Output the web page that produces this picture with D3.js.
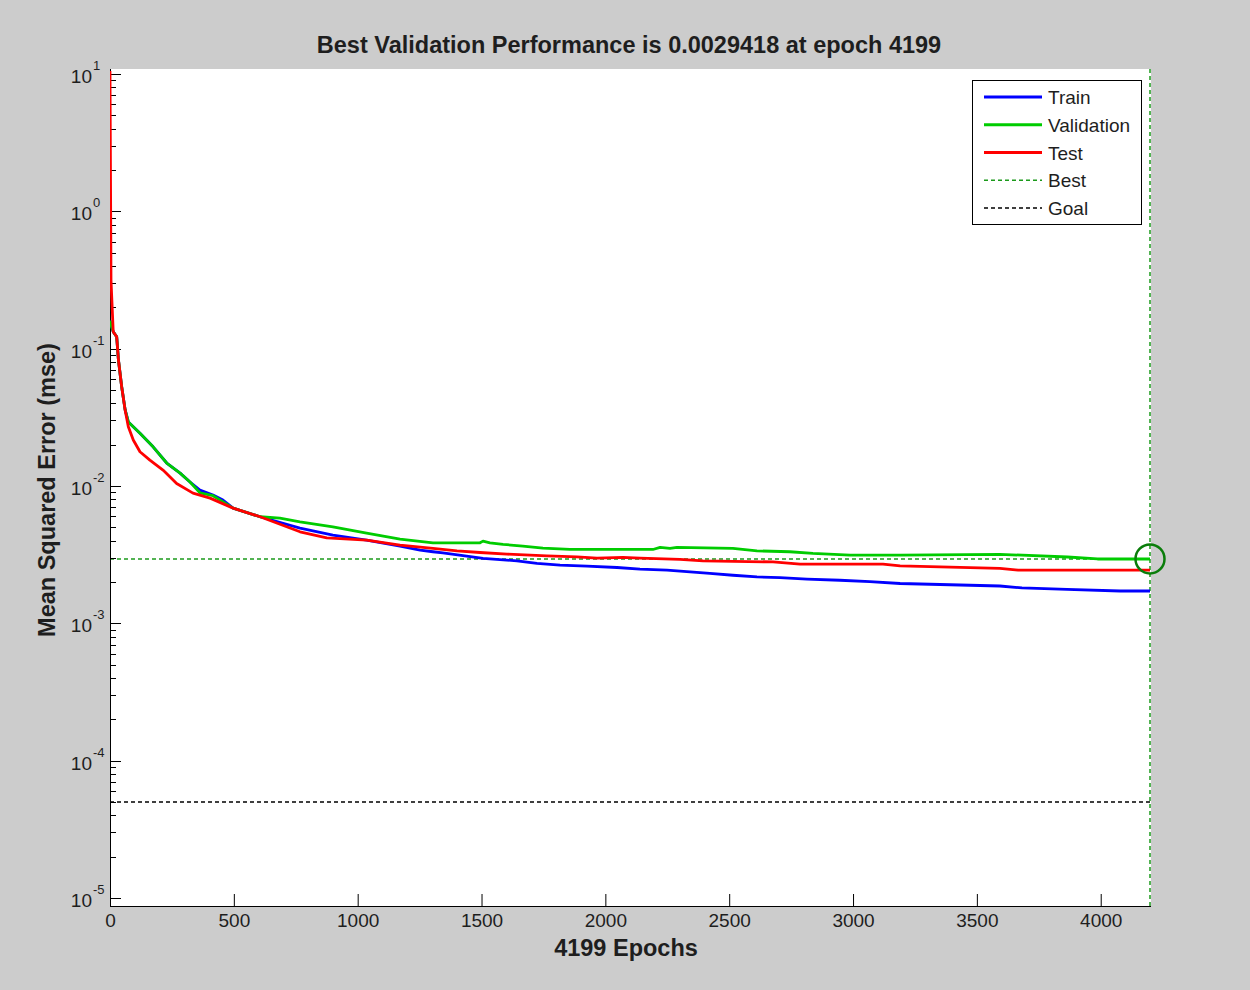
<!DOCTYPE html>
<html>
<head>
<meta charset="utf-8">
<script src="https://cdn.jsdelivr.net/npm/d3@7/dist/d3.min.js"></script>
<style>
  html, body { margin: 0; padding: 0; background: #cccccc; }
  svg { display: block; }
  text { font-family: "Liberation Sans", Arial, sans-serif; fill: #1e1e1e; }
</style>
</head>
<body>
<svg id="chart" width="1250" height="990"></svg>
<script>
// Training record of the network: mean squared error per epoch
const trainEpochs = [0, 4, 13, 27, 34, 47, 61, 74, 121, 174, 229, 283, 323, 363, 416, 456, 497, 606, 767, 900, 1036, 1171, 1252, 1304, 1344, 1440, 1506, 1643, 1724, 1817, 1926, 2047, 2140, 2249, 2342, 2422, 2515, 2612, 2705, 2814, 2947, 3068, 3190, 3593, 3682, 3864, 4078, 4199];
const trainMse = [0.16, 0.149, 0.133, 0.122, 0.083, 0.053, 0.036, 0.0293, 0.0242, 0.0193, 0.0147, 0.0124, 0.0107, 0.00934, 0.00859, 0.0079, 0.0069, 0.00597, 0.00494, 0.00439, 0.00404, 0.00365, 0.00341, 0.00332, 0.00326, 0.00309, 0.00297, 0.00285, 0.00273, 0.00265, 0.00261, 0.00255, 0.00248, 0.00244, 0.00237, 0.00231, 0.00224, 0.00218, 0.00215, 0.0021, 0.00206, 0.00201, 0.00195, 0.00187, 0.00181, 0.00177, 0.00172, 0.00172];

const valEpochs = [0, 4, 13, 27, 34, 47, 61, 74, 121, 174, 229, 283, 323, 363, 416, 497, 606, 686, 767, 900, 1036, 1171, 1304, 1494, 1506, 1534, 1587, 1667, 1748, 1857, 2192, 2221, 2261, 2289, 2515, 2612, 2745, 2838, 2988, 3190, 3593, 3866, 3987, 4199];
const valMse = [0.16, 0.149, 0.133, 0.122, 0.083, 0.053, 0.036, 0.0293, 0.0242, 0.0193, 0.0147, 0.0124, 0.0107, 0.00892, 0.0085, 0.0069, 0.00597, 0.00584, 0.00549, 0.00504, 0.00454, 0.0041, 0.00386, 0.00386, 0.00397, 0.00386, 0.00376, 0.00365, 0.00353, 0.00345, 0.00345, 0.00357, 0.00351, 0.00357, 0.00351, 0.00337, 0.00332, 0.00323, 0.00314, 0.00314, 0.00318, 0.00304, 0.0029418, 0.0029418];

const testEpochs = [0, 4, 13, 27, 34, 47, 61, 74, 94, 121, 161, 214, 269, 335, 404, 497, 606, 767, 875, 1036, 1171, 1304, 1401, 1494, 1603, 1764, 1885, 1966, 2071, 2140, 2301, 2394, 2677, 2786, 3121, 3190, 3593, 3666, 4146, 4199];
const testMse = [10.5, 0.316, 0.133, 0.122, 0.083, 0.053, 0.0357, 0.027, 0.0216, 0.01775, 0.01544, 0.01305, 0.01044, 0.00888, 0.00816, 0.0069, 0.00597, 0.00464, 0.00419, 0.00404, 0.00371, 0.00351, 0.00337, 0.00328, 0.00319, 0.0031, 0.00305, 0.00298, 0.00302, 0.00298, 0.00292, 0.00285, 0.0028, 0.0027, 0.0027, 0.00262, 0.00251, 0.00244, 0.00244, 0.00244];

const bestEpoch = 4199;
const bestPerf = 0.0029418;
const goal = 5e-5;

const xTicks = [0, 500, 1000, 1500, 2000, 2500, 3000, 3500, 4000];
const yExponents = [1, 0, -1, -2, -3, -4, -5];

const legendNames = ["Train", "Validation", "Test", "Best", "Goal"];

// Layout
const plot = { left: 110, right: 1151, top: 69, bottom: 906 };
const colors = { train: "#0000ff", val: "#00cc00", test: "#ff0000", best: "#1b9a1b", goal: "#000000", circle: "#0a7d0a" };
const tickFont = 19;
const labelFont = 23.5;

const svg = d3.select("#chart");

const x = d3.scaleLinear().domain([0, bestEpoch]).range([plot.left, 1150]);
const y = d3.scaleLog().domain([1e-5, 1e1]).range([898, 74]);

// Plot background
svg.append("rect")
  .attr("x", plot.left).attr("y", plot.top)
  .attr("width", plot.right - plot.left).attr("height", plot.bottom - plot.top)
  .attr("fill", "#ffffff");

svg.append("clipPath").attr("id", "plotclip")
  .append("rect")
  .attr("x", plot.left).attr("y", plot.top)
  .attr("width", plot.right - plot.left + 1).attr("height", plot.bottom - plot.top);

// Goal and best reference lines
svg.append("line")
  .attr("x1", plot.left).attr("x2", x(bestEpoch))
  .attr("y1", y(goal)).attr("y2", y(goal))
  .attr("stroke", colors.goal).attr("stroke-width", 1.3).attr("stroke-dasharray", "4,3");

svg.append("line")
  .attr("x1", plot.left).attr("x2", x(bestEpoch))
  .attr("y1", y(bestPerf)).attr("y2", y(bestPerf))
  .attr("stroke", colors.best).attr("stroke-width", 1.5).attr("stroke-dasharray", "4,3");

svg.append("line")
  .attr("x1", x(bestEpoch)).attr("x2", x(bestEpoch))
  .attr("y1", plot.top).attr("y2", plot.bottom)
  .attr("stroke", colors.best).attr("stroke-width", 1.5).attr("stroke-dasharray", "4,3");

// Axes (ticks pointing into the plot)
const xAxis = d3.axisBottom(x).tickValues(xTicks).tickSize(-12).tickPadding(8).tickFormat(d3.format("d"));
const gx = svg.append("g").attr("transform", `translate(0,${plot.bottom})`).call(xAxis);
gx.select(".domain").attr("d", `M${plot.left},0.5H${plot.right}`).attr("stroke", "#000");
gx.selectAll(".tick line").attr("stroke", "#000");
gx.selectAll(".tick text").attr("font-size", tickFont).attr("fill", "#1e1e1e")
  .style("font-family", "'Liberation Sans', Arial, sans-serif");

// Minor log ticks on y
const minorVals = [];
for (let e = -5; e < 1; e++) {
  for (let m = 2; m <= 9; m++) minorVals.push(m * Math.pow(10, e));
}
const gy = svg.append("g");
gy.append("line")
  .attr("x1", plot.left + 0.5).attr("x2", plot.left + 0.5)
  .attr("y1", plot.top).attr("y2", plot.bottom)
  .attr("stroke", "#000");
gy.selectAll("line.minor").data(minorVals).join("line")
  .attr("class", "minor")
  .attr("x1", plot.left).attr("x2", plot.left + 6)
  .attr("y1", d => Math.round(y(d)) + 0.5).attr("y2", d => Math.round(y(d)) + 0.5)
  .attr("stroke", "#000");
gy.selectAll("line.major").data(yExponents).join("line")
  .attr("class", "major")
  .attr("x1", plot.left).attr("x2", plot.left + 11)
  .attr("y1", d => Math.round(y(Math.pow(10, d))) + 0.5).attr("y2", d => Math.round(y(Math.pow(10, d))) + 0.5)
  .attr("stroke", "#000");

// Decade labels: base "10" right-aligned, exponent raised after it
gy.selectAll("text.ybase").data(yExponents).join("text")
  .attr("class", "ybase")
  .attr("x", 92)
  .attr("y", d => y(Math.pow(10, d)) + 9)
  .attr("text-anchor", "end")
  .attr("font-size", tickFont)
  .text("10");
gy.selectAll("text.yexp").data(yExponents).join("text")
  .attr("class", "yexp")
  .attr("x", 93)
  .attr("y", d => y(Math.pow(10, d)) - 4)
  .attr("font-size", 13)
  .text(d => String(d));

// Curves
const line = d3.line().x(d => x(d[0])).y(d => y(d[1]));
const series = [
  { e: trainEpochs, v: trainMse, c: colors.train },
  { e: valEpochs, v: valMse, c: colors.val },
  { e: testEpochs, v: testMse, c: colors.test }
];
const gLines = svg.append("g").attr("clip-path", "url(#plotclip)");
series.forEach(s => {
  gLines.append("path")
    .datum(d3.zip(s.e, s.v))
    .attr("d", line)
    .attr("fill", "none")
    .attr("stroke", s.c)
    .attr("stroke-width", 2.8)
    .attr("stroke-linejoin", "round");
});

// Best validation marker
svg.append("circle")
  .attr("cx", x(bestEpoch)).attr("cy", y(bestPerf)).attr("r", 14.5)
  .attr("fill", "none").attr("stroke", colors.circle).attr("stroke-width", 2.5);

// Legend
const lg = svg.append("g");
lg.append("rect")
  .attr("x", 972.5).attr("y", 80.5).attr("width", 169).attr("height", 144)
  .attr("fill", "#fff").attr("stroke", "#000").attr("stroke-width", 1);
const legendStyles = [
  { c: colors.train, dash: null, w: 2.8 },
  { c: colors.val, dash: null, w: 2.8 },
  { c: colors.test, dash: null, w: 2.8 },
  { c: colors.best, dash: "4,3", w: 1.5 },
  { c: colors.goal, dash: "4,3", w: 1.3 }
];
const legendRowY = d3.scalePoint().domain(legendNames).range([97, 208]);
legendNames.forEach((name, i) => {
  const yy = legendRowY(name);
  lg.append("line")
    .attr("x1", 984).attr("x2", 1042).attr("y1", yy).attr("y2", yy)
    .attr("stroke", legendStyles[i].c).attr("stroke-width", legendStyles[i].w)
    .attr("stroke-dasharray", legendStyles[i].dash);
  lg.append("text")
    .attr("x", 1048).attr("y", yy + 7)
    .attr("font-size", tickFont)
    .text(name);
});

// Titles
svg.append("text")
  .attr("x", 629).attr("y", 53)
  .attr("text-anchor", "middle").attr("font-size", labelFont).attr("font-weight", "bold")
  .attr("fill", "#000")
  .text(`Best Validation Performance is ${bestPerf} at epoch ${bestEpoch}`);

svg.append("text")
  .attr("x", 626).attr("y", 956)
  .attr("text-anchor", "middle").attr("font-size", labelFont).attr("font-weight", "bold")
  .attr("fill", "#000")
  .text(`${bestEpoch} Epochs`);

svg.append("text")
  .attr("transform", "translate(55,490) rotate(-90)")
  .attr("text-anchor", "middle").attr("font-size", labelFont).attr("font-weight", "bold")
  .attr("fill", "#000")
  .text("Mean Squared Error  (mse)");
</script>
</body>
</html>
